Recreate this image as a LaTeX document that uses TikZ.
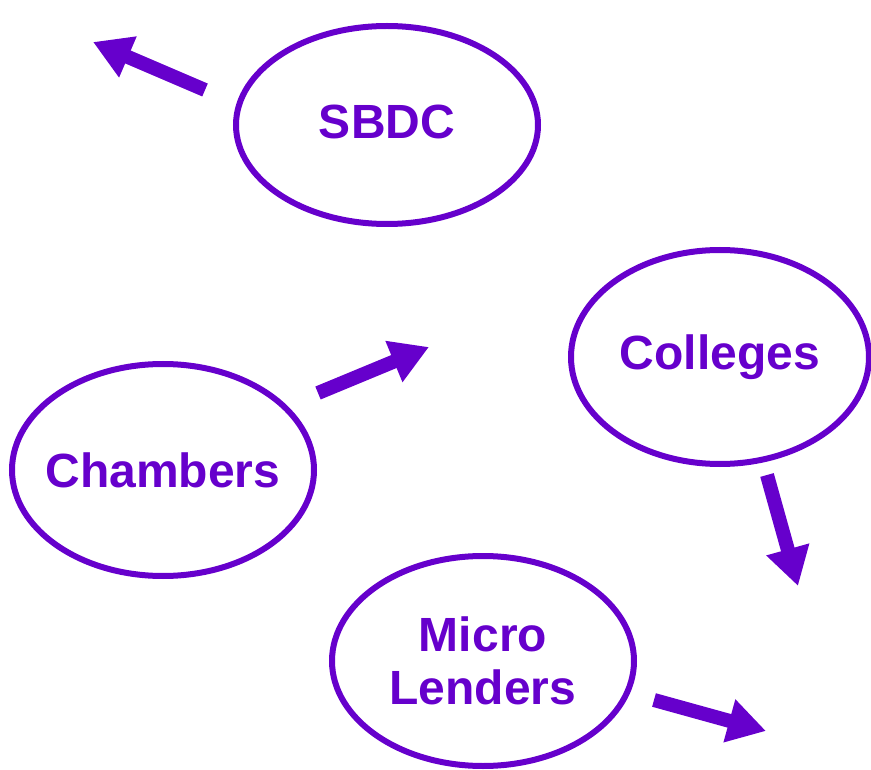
\documentclass[tikz,border=0pt]{standalone}
\usepackage{fontspec}
\setmainfont{Liberation Sans}
\usetikzlibrary{shapes.geometric,arrows.meta}
\definecolor{violetink}{HTML}{6600CC}
\tikzset{
  bubble/.style={ellipse, draw=violetink, line width=6pt, inner sep=0pt, outer sep=0pt,
    text=violetink, font=\fontsize{48}{53}\selectfont\bfseries, align=center},
  fatarrow/.style={draw=violetink, line width=14pt, line cap=butt,
    -{Triangle[width=42pt,length=38pt]}}
}
\begin{document}
\begin{tikzpicture}[x=1pt,y=-1pt]
  \useasboundingbox (0,0) rectangle (871,770);
  % organisations
  \node[bubble, minimum width=302pt, minimum height=198pt] (sbdc) at (387,125)
    {\raisebox{7pt}{SBDC}};
  \node[bubble, minimum width=298pt, minimum height=214pt] (colleges) at (720,357)
    {\raisebox{-6pt}{Colleges}};
  \node[bubble, minimum width=302pt, minimum height=212pt, inner xsep=-24pt] (chambers) at (163,470)
    {\raisebox{-2pt}{Chambers}};
  \node[bubble, minimum width=302pt, minimum height=210pt] (micro) at (483,661)
    {Micro\\Lenders};
  % arrow ends
  \coordinate (a1s) at (205,90);  \coordinate (a1e) at (93,42);
  \coordinate (a2s) at (318,393); \coordinate (a2e) at (429,347);
  \coordinate (a3s) at (767,475); \coordinate (a3e) at (798,586);
  \coordinate (a4s) at (654,700); \coordinate (a4e) at (766,731);
  % outgoing arrows
  \draw[fatarrow] (a1s) -- (a1e);
  \draw[fatarrow] (a2s) -- (a2e);
  \draw[fatarrow] (a3s) -- (a3e);
  \draw[fatarrow] (a4s) -- (a4e);
\end{tikzpicture}
\end{document}
